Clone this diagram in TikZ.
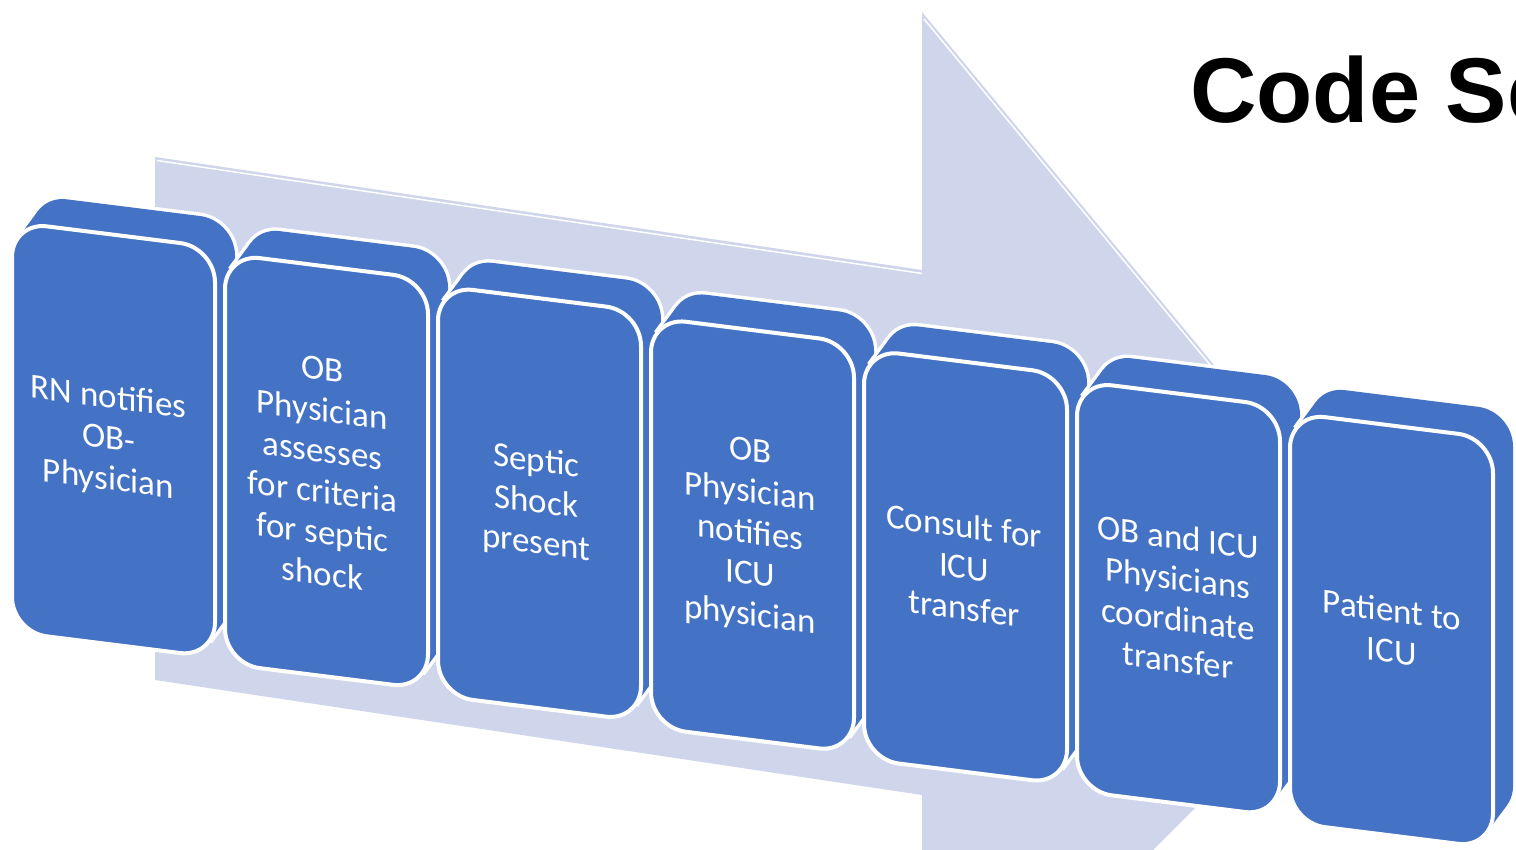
\documentclass[tikz,border=0pt]{standalone}
\usepackage{fontspec}
\setmainfont{Carlito}
\newfontfamily\headfont{Liberation Sans}
\usetikzlibrary{calc}
\definecolor{stepblue}{HTML}{4472C4}
\definecolor{arrowgray}{HTML}{CFD5EA}

\begin{document}
\begin{tikzpicture}[x=1pt, y=1pt,
    face/.style={draw=white, line width=4pt, fill=stepblue, rounded corners=35pt},
    rim/.style={draw=white, line width=7pt, rounded corners=35pt},
    steptext/.style={text=white, align=center, yslant=-0.13, font=\fontsize{35}{41}\selectfont}]
        \useasboundingbox (0,0) rectangle (1516,850);
        \clip (0,0) rectangle (1516,850);

        % big arrow behind the steps
        \coordinate (A1) at (155,693);
        \coordinate (A2) at (922,580);
        \coordinate (A3) at (922,838);
        \coordinate (A4) at (1406,253);
        \coordinate (A5) at (922,-231);
        \coordinate (A6) at (922,55);
        \coordinate (A7) at (155,170);
        \fill[arrowgray] (A1)--(A2)--(A3)--(A4)--(A5)--(A6)--(A7)--cycle;
        \draw[white, line width=1.5pt] ($(A1)+(2,-3.5)$) -- ($(A2)+(0,-3.5)$);
        \draw[white, line width=1.5pt] ($(A3)+(2,-7)$) -- ($(A4)+(-2.3,-1.9)$);

        % the seven steps
        \foreach \i/\txt in {0/{RN notifies\\OB-\\Physician},
                             1/{OB\\Physician\\assesses\\for criteria\\for septic\\shock},
                             2/{Septic\\Shock\\present},
                             3/{OB\\Physician\\notifies\\ICU\\physician},
                             4/{Consult for\\ICU\\transfer},
                             5/{OB and ICU\\Physicians\\coordinate\\transfer},
                             6/{Patient to\\ICU}} {
            \pgfmathsetmacro\bx{12+213*\i}
            \pgfmathsetmacro\by{628-31.8*\i}
            \pgfmathsetmacro\tx{-5+0.9*\i}
            \coordinate (tl\i) at (\bx,\by);
            \coordinate (tr\i) at ($(tl\i)+(203,-25.4)$);
            \coordinate (br\i) at ($(tr\i)+(0,-410)$);
            \coordinate (bl\i) at ($(tl\i)+(0,-410)$);
            \coordinate (p\i) at ($(tl\i)+(6,-16)$);
            \coordinate (q\i) at ($(br\i)+(-6,16)$);
            % depth of the block
            \draw[rim] ($(tl\i)+(20,27)$)--($(tr\i)+(20,27)$)--($(br\i)+(20,27)$)--($(bl\i)+(20,27)$)--cycle;
            \draw[white, line width=7pt] (p\i) -- ++(20,27) (q\i) -- ++(20,27);
            \fill[stepblue, rounded corners=35pt] ($(tl\i)+(20,27)$)--($(tr\i)+(20,27)$)--($(br\i)+(20,27)$)--($(bl\i)+(20,27)$)--cycle;
            \fill[stepblue] (p\i) -- ++(20,27) -- ($(q\i)+(20,27)$) -- (q\i) -- cycle;
            % front face
            \draw[face] (tl\i)--(tr\i)--(br\i)--(bl\i)--cycle;
            \node[steptext] (t\i) at ($(tl\i)!0.5!(br\i)+(\tx,0)$) {\txt};
        }

        \node[anchor=base west, inner sep=0pt, font=\headfont\bfseries\fontsize{92}{110}\selectfont] (title) at (1190,727) {Code Se};
\end{tikzpicture}
\end{document}
